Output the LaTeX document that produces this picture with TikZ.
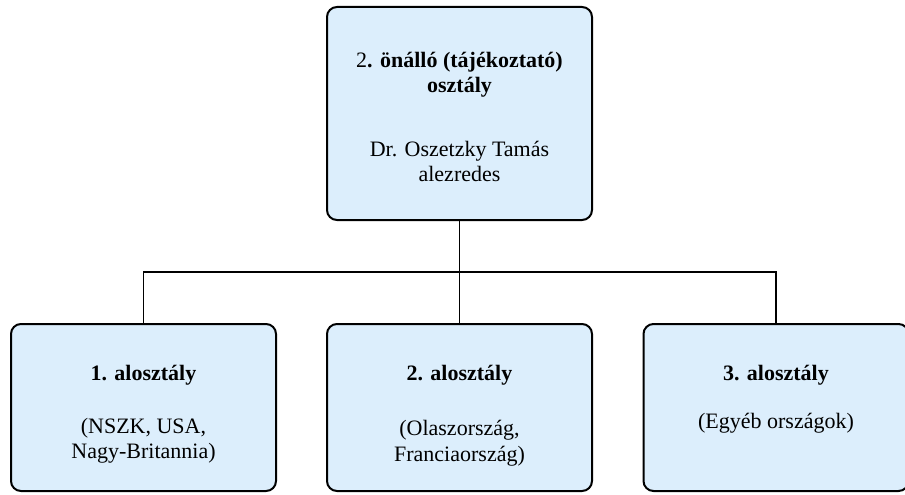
\documentclass[tikz,border=0pt]{standalone}
\usepackage{fontspec}
\setmainfont{Liberation Serif}
\usetikzlibrary{positioning}
\definecolor{unitblue}{RGB}{220,238,252}

\begin{document}
\begin{tikzpicture}[x=1pt,y=1pt,node distance=294pt,line width=1.6pt]
\tikzstyle{every node}=[font=\fontsize{22pt}{25.5pt}\selectfont,inner sep=0pt,outer sep=0pt]
\tikzstyle{unit}=[draw,fill=unitblue,rounded corners=10pt,line width=2pt]
\tikzstyle{head unit}=[unit,execute at begin node={\begin{minipage}[c][213pt][t]{265pt}\centering\rule{0pt}{60pt}},
  execute at end node={\end{minipage}}]
\tikzstyle{sub unit}=[unit,execute at begin node={\begin{minipage}[c][167pt][t]{265pt}\centering\rule{0pt}{56pt}},
  execute at end node={\end{minipage}}]
\useasboundingbox (0,0) rectangle (905,-495);

\node [head unit] (main) at (459.5,-113.5) {2\textbf{. önálló (tájékoztató)}\\ \textbf{osztály}\\[38.5pt]
  Dr. Oszetzky Tamás\\ alezredes};
\node [sub unit] [below of=main] (sub2) {\textbf{2. alosztály}\\[30pt] (Olaszország,\\ Franciaország)};
\node [sub unit] [left of=sub2,node distance=316pt] (sub1) {\textbf{1. alosztály}\\[27.5pt] (NSZK, USA,\\ Nagy-Britannia)};
\node [sub unit] [right of=sub2,node distance=316.5pt] (sub3) {\textbf{3. alosztály}\\[22.5pt] (Egyéb országok)};

% connectors
\draw (main.south) -- ++(0,-52) coordinate (fork);
\draw (fork) -| (sub1.north);
\draw (fork) -- (sub2.north);
\draw (fork) -| (sub3.north);
\end{tikzpicture}
\end{document}
